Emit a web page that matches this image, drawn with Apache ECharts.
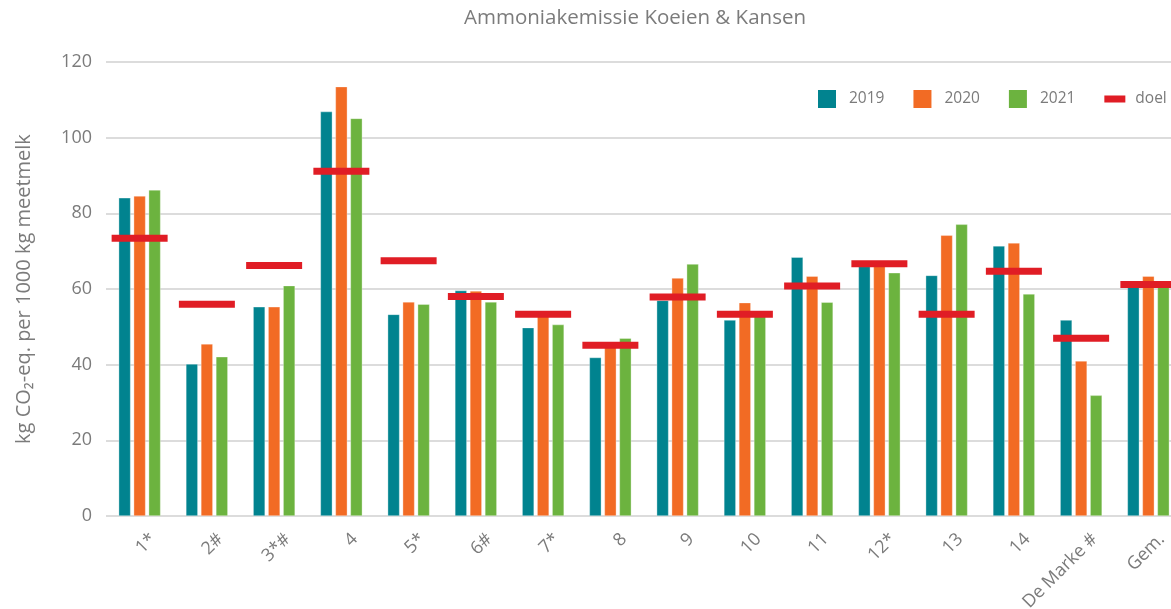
<!DOCTYPE html>
<html>
<head>
<meta charset="utf-8">
<script src="https://cdn.jsdelivr.net/npm/echarts@6/dist/echarts.min.js"></script>
<style>
  html, body { margin: 0; padding: 0; background: #fff; }
  #chart { width: 1171px; height: 609px; }
</style>
</head>
<body>
<div id="chart"></div>
<script>
const categories = ['1*', '2#', '3*#', '4', '5*', '6#', '7*', '8', '9', '10', '11', '12*', '13', '14', 'De Marke #', 'Gem.'];
const v2019 = [84.1, 40.2, 55.3, 106.9, 53.3, 59.6, 49.8, 41.9, 57.0, 51.8, 68.4, 66.0, 63.6, 71.4, 51.8, 61.0];
const v2020 = [84.6, 45.5, 55.3, 113.5, 56.6, 59.5, 53.0, 45.5, 62.9, 56.4, 63.4, 67.0, 74.2, 72.2, 41.0, 63.4];
const v2021 = [86.2, 42.1, 60.9, 105.1, 56.0, 56.6, 50.6, 47.0, 66.6, 53.0, 56.5, 64.3, 77.1, 58.7, 31.9, 61.5];
const doel  = [73.4, 56.0, 66.2, 91.1, 67.5, 58.0, 53.3, 45.1, 57.9, 53.3, 60.8, 66.7, 53.3, 64.7, 47.0, 61.2];
const yTicks = { min: 0, max: 120, interval: 20 };

const FONT = 'Open Sans';
const TXT = '#7b7b7b';
const C19 = '#01838F', C20 = '#F26B24', C21 = '#6CB33F', CDOEL = '#E01D25';

const squareIcon = 'path://M0,0h18v18h-18z M25.99,17.99h0.01v0.01h-0.01z';
const doelIcon = 'path://M0,0h0.01v0.01h-0.01z M0,5.5h21v7h-21z M25.99,17.99h0.01v0.01h-0.01z';

const chart = echarts.init(document.getElementById('chart'), null, { renderer: 'canvas' });

function barSeries(name, data, color) {
  return {
    name: name,
    type: 'bar',
    data: data,
    barWidth: 12,
    barGap: '25%',
    itemStyle: { color: color, borderColor: 'rgba(255,255,255,0.55)', borderWidth: 0.6 },
    emphasis: { disabled: true },
    z: 2
  };
}

chart.setOption({
  animation: false,
  backgroundColor: '#fff',
  textStyle: { fontFamily: FONT },
  title: {
    text: 'Ammoniakemissie Koeien & Kansen',
    left: 464,
    top: 8,
    padding: 0,
    textStyle: { fontFamily: FONT, fontSize: 20.5, fontWeight: 'normal', color: TXT }
  },
  legend: {
    left: 818,
    top: 90,
    padding: 0,
    itemWidth: 26,
    itemHeight: 18,
    itemGap: 29,
    textStyle: { fontFamily: FONT, fontSize: 15.5, color: TXT },
    data: [
      { name: '2019', icon: squareIcon, itemStyle: { color: C19, borderWidth: 0 } },
      { name: '2020', icon: squareIcon, itemStyle: { color: C20, borderWidth: 0 } },
      { name: '2021', icon: squareIcon, itemStyle: { color: C21, borderWidth: 0 } },
      { name: 'doel', icon: doelIcon, itemStyle: { color: CDOEL, borderWidth: 0 } }
    ]
  },
  grid: { left: 106, right: -11, top: 62, bottom: 93, containLabel: false, outerBoundsMode: 'none' },
  xAxis: {
    type: 'category',
    data: categories,
    axisLine: { show: false },
    axisTick: { show: false },
    axisLabel: {
      rotate: 45,
      interval: 0,
      margin: 7,
      verticalAlign: 'top',
      lineHeight: 38,
      fontFamily: FONT,
      fontSize: 18,
      color: TXT
    }
  },
  yAxis: {
    type: 'value',
    min: yTicks.min,
    max: yTicks.max,
    interval: yTicks.interval,
    name: 'kg CO\u2082-eq. per 1000 kg meetmelk',
    nameLocation: 'middle',
    nameRotate: 90,
    nameGap: 72,
    nameTextStyle: { fontFamily: FONT, fontSize: 20, color: TXT },
    axisLine: { show: false },
    axisTick: { show: false },
    axisLabel: { margin: 14, fontFamily: FONT, fontSize: 18, color: TXT },
    splitLine: { lineStyle: { color: '#dcdcdc', width: 2 } }
  },
  series: [
    barSeries('2019', v2019, C19),
    barSeries('2020', v2020, C20),
    barSeries('2021', v2021, C21),
    {
      name: 'doel',
      type: 'scatter',
      data: doel,
      symbol: 'rect',
      symbolSize: [56, 7],
      itemStyle: { color: CDOEL, opacity: 1 },
      emphasis: { disabled: true },
      z: 5
    }
  ]
});
</script>
</body>
</html>
